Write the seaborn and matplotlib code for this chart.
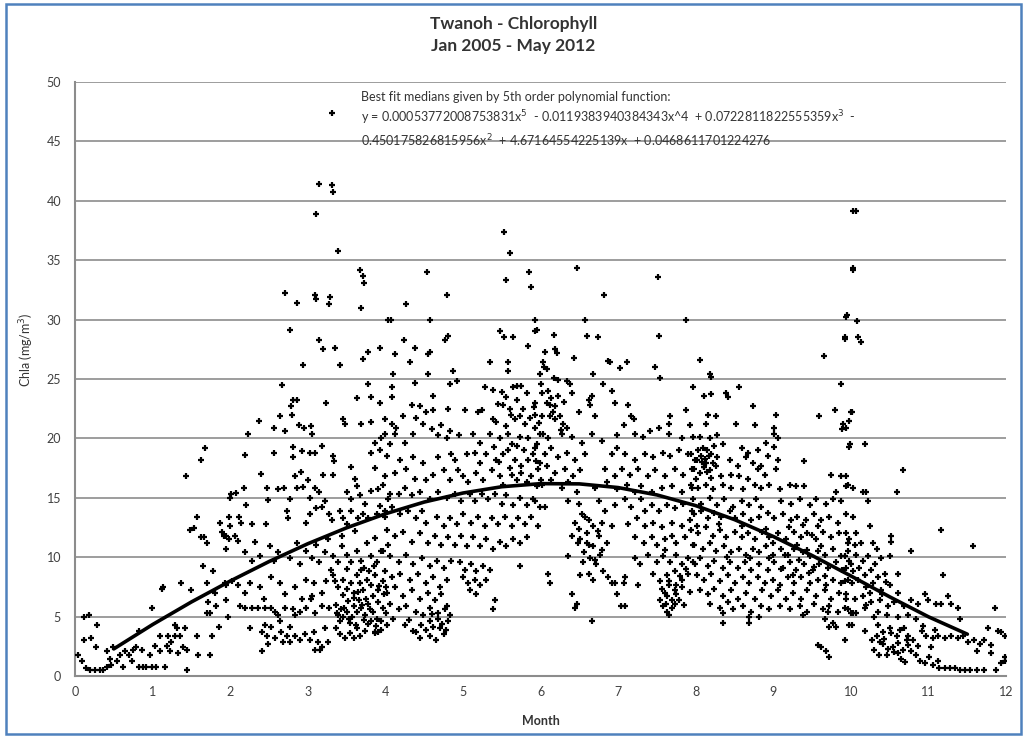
import matplotlib.pyplot as plt
import seaborn as sns
import pandas as pd
from matplotlib.patches import Rectangle

# readings: (month, chl a) pairs, grouped by part of the year
pts_0_2 = [
    (0.04, 1.76), (0.09, 1.28), (0.11, 4.95), (0.18, 5.1), (0.12, 3.0), (0.14, 0.64), (0.19, 0.48),
    (0.21, 3.2), (0.26, 0.48), (0.28, 4.3), (0.27, 2.4), (0.32, 0.48), (0.36, 0.48), (0.41, 0.8),
    (0.41, 2.1), (0.45, 1.4), (0.47, 0.96), (0.49, 2.4), (0.54, 1.28), (0.58, 1.76), (0.62, 0.8),
    (0.64, 2.1), (0.69, 1.76), (0.73, 1.28), (0.75, 2.2), (0.79, 2.4), (0.82, 3.8), (0.83, 0.8),
    (0.86, 2.2), (0.88, 0.8), (0.92, 0.8), (0.97, 1.76), (0.99, 5.75), (0.99, 0.8), (1.03, 2.56),
    (1.05, 0.8), (1.09, 3.35), (1.09, 2.1), (1.12, 7.35), (1.14, 7.5), (1.16, 0.8), (1.18, 2.56),
    (1.2, 3.35), (1.22, 2.1), (1.24, 2.9), (1.29, 3.35), (1.29, 4.3), (1.31, 4.0), (1.33, 1.9),
    (1.35, 3.35), (1.36, 7.8), (1.39, 2.4), (1.42, 4.0), (1.44, 2.2), (1.45, 0.48), (1.43, 16.8),
    (1.48, 12.3), (1.54, 12.45), (1.57, 13.4), (1.5, 7.2), (1.57, 3.35), (1.59, 1.76), (1.63, 18.2),
    (1.67, 19.2), (1.62, 11.7), (1.66, 11.7), (1.70, 11.2), (1.65, 9.3), (1.70, 7.8), (1.72, 6.2),
    (1.70, 5.3), (1.74, 5.3), (1.76, 3.35), (1.74, 1.76), (1.78, 8.8), (1.8, 7.0), (1.82, 5.9),
    (1.85, 4.15), (1.87, 12.9), (1.89, 12.1), (1.92, 11.8), (1.95, 11.8), (1.93, 7.8), (1.97, 4.95),
    (2.0, 15.0), (1.95, 10.7), (1.99, 13.4),
]

pts_2_4 = [
    (3.315, 47.4), (3.15, 41.4), (3.31, 41.3), (3.33, 40.7), (3.105, 38.9), (3.39, 35.8), (3.67, 34.2),
    (3.71, 33.7), (3.73, 33.1), (2.71, 32.2), (2.86, 31.4), (3.09, 32.1), (3.11, 31.7), (3.29, 31.9),
    (3.28, 31.3), (3.69, 31.0), (4.04, 30.0), (2.77, 29.1), (3.15, 28.3), (3.19, 27.5), (3.35, 27.6),
    (2.94, 26.2), (3.41, 26.2), (3.71, 26.7), (3.77, 27.3), (3.93, 27.6), (2.67, 24.5), (2.81, 23.2),
    (2.86, 23.2), (2.79, 22.7), (2.80, 22.0), (3.24, 23.0), (3.77, 24.6), (3.63, 23.4), (3.82, 23.5),
    (3.93, 23.0), (2.37, 21.5), (2.57, 20.9), (2.64, 21.9), (2.71, 20.6), (2.89, 21.1), (2.95, 20.9),
    (3.04, 21.0), (3.05, 20.4), (3.46, 21.6), (3.48, 21.2), (3.69, 21.2), (3.82, 21.4), (2.23, 20.4),
    (2.19, 18.6), (2.57, 18.8), (2.81, 19.3), (2.81, 18.4), (2.93, 18.9), (3.03, 18.8), (3.09, 18.8),
    (3.18, 19.4), (3.33, 18.5), (3.34, 18.1), (3.81, 18.8), (3.86, 19.6), (3.93, 19.0), (4.0, 20.4),
    (3.95, 20.0), (3.56, 17.6), (3.86, 17.5), (2.40, 17.0), (2.84, 16.8), (2.91, 17.2), (3.00, 16.5),
    (3.20, 16.9), (3.33, 16.9), (3.61, 16.6), (4.0, 16.8), (2.01, 15.3), (2.07, 15.4), (2.18, 15.8),
    (2.47, 15.8), (2.49, 14.8), (2.61, 15.7), (2.7, 15.8), (2.77, 14.9), (2.86, 15.8), (2.94, 15.9),
    (3.03, 15.0), (3.09, 15.8), (3.14, 15.5), (3.22, 14.7), (3.51, 15.5), (3.56, 14.9), (3.63, 16.0),
    (3.67, 15.2), (3.74, 14.5), (3.82, 15.6), (3.90, 15.7), (3.93, 14.3), (4.04, 14.9), (2.21, 14.4),
    (2.11, 13.4), (2.14, 12.9), (1.997, 12.6), (2.28, 12.8), (2.46, 12.8), (2.73, 13.9), (2.75, 13.3),
    (2.98, 12.9), (3.03, 13.6), (3.11, 14.1), (3.18, 14.2), (3.27, 13.6), (3.31, 13.1), (3.41, 13.9),
    (3.46, 13.3), (3.51, 12.8), (3.56, 13.9), (3.65, 13.3), (3.71, 13.6), (3.78, 13.3), (3.89, 13.6),
    (4.0, 13.4), (1.98, 11.5), (2.06, 11.8), (2.1, 11.4), (2.19, 10.4), (2.32, 11.3), (2.28, 9.7),
    (2.38, 10.1), (2.51, 10.9), (2.57, 9.7), (2.62, 10.4), (2.77, 9.9), (2.86, 11.2), (2.9, 9.4),
    (2.98, 10.5), (3.05, 9.9), (3.11, 11.0), (3.14, 9.6), (3.22, 10.4), (3.26, 11.5), (3.33, 10.1),
    (3.39, 9.6), (3.44, 10.9), (3.5, 10.2), (3.56, 9.6), (3.63, 10.5), (3.68, 9.7), (3.76, 11.2),
    (3.82, 10.1), (3.89, 9.6), (3.95, 10.5), (4.04, 11.0), (1.95, 7.7), (2.02, 8.0), (2.1, 7.7),
    (2.19, 7.0), (2.25, 7.8), (2.38, 7.5), (2.43, 6.5), (2.53, 8.3), (2.64, 7.8), (2.71, 6.9),
    (2.83, 7.5), (2.92, 6.5), (2.98, 8.1), (3.05, 6.7), (3.08, 7.8), (3.18, 7.0), (3.24, 8.0),
    (3.30, 8.9), (3.33, 8.5), (3.35, 8.0), (3.39, 7.5), (3.46, 8.1), (3.5, 7.3), (3.56, 7.8),
    (3.59, 7.0), (3.63, 8.5), (3.67, 7.8), (3.71, 7.2), (3.76, 8.1), (3.82, 7.7), (3.86, 8.5),
    (3.91, 7.2), (3.97, 8.0), (4.01, 7.5), (1.95, 6.4), (2.13, 5.9), (2.19, 5.75), (2.28, 5.75),
    (2.36, 5.75), (2.45, 5.75), (2.53, 5.75), (2.58, 5.4), (2.62, 5.1), (2.71, 5.75), (2.81, 5.6),
    (2.83, 5.1), (2.9, 5.4), (2.98, 5.75), (3.04, 6.5), (3.09, 5.3), (3.18, 5.9), (3.28, 5.75),
    (3.39, 5.1), (3.43, 5.6), (3.46, 4.95), (3.5, 5.4), (3.53, 4.8), (3.59, 5.9), (3.63, 5.4),
    (3.66, 6.4), (3.69, 5.75), (3.74, 5.1), (3.78, 6.1), (3.84, 5.4), (3.89, 4.8), (3.97, 5.75),
    (4.01, 5.3), (2.25, 4.0), (2.41, 3.7), (2.45, 4.3), (2.48, 3.35), (2.53, 4.15), (2.58, 3.2),
    (2.64, 4.6), (2.66, 3.7), (2.68, 2.9), (2.73, 3.35), (2.77, 4.15), (2.77, 2.9), (2.83, 3.35),
    (2.9, 3.0), (2.96, 3.5), (3.03, 3.0), (3.08, 3.7), (3.13, 2.9), (3.18, 2.4), (3.22, 4.0),
    (3.26, 2.9), (3.37, 4.0), (3.41, 3.5), (3.48, 3.2), (3.63, 4.0), (3.67, 3.35), (3.74, 3.8),
    (3.82, 4.6), (3.86, 3.7), (3.91, 3.7), (2.41, 2.1), (2.49, 2.7), (3.09, 2.2), (3.16, 2.2),
    (3.36, 6.0), (3.38, 5.3), (3.42, 4.6), (3.45, 6.8), (3.47, 5.7), (3.52, 6.3), (3.54, 4.5),
    (3.57, 5.0), (3.6, 6.6), (3.62, 4.3), (3.65, 7.1), (3.7, 6.0), (3.72, 4.7), (3.75, 6.5),
    (3.77, 4.4), (3.8, 5.6), (3.84, 6.7), (3.86, 3.6), (3.88, 4.2), (3.9, 6.2), (3.92, 7.6),
    (3.95, 3.9), (3.98, 6.9), (3.55, 3.6), (3.6, 3.2), (3.68, 8.9), (3.73, 9.1), (3.79, 8.8),
    (3.85, 9.3), (3.87, 11.6), (3.44, 11.8), (3.61, 12.2), (3.5, 9.0),
]

pts_4_6 = [
    (5.53, 37.4), (5.61, 35.6), (5.55, 33.3), (4.54, 34.0), (4.79, 32.1), (5.85, 34.0), (5.88, 32.7),
    (4.26, 31.3), (4.07, 30.0), (4.57, 30.0), (5.93, 30.0), (5.48, 29.0), (5.53, 28.5), (5.65, 28.5),
    (5.93, 29.0), (4.38, 27.6), (4.24, 28.3), (4.77, 28.3), (4.81, 28.6), (4.57, 27.3), (4.55, 27.1),
    (4.12, 27.1), (4.32, 26.4), (5.35, 26.4), (5.58, 26.4), (5.84, 27.8), (6.03, 26.4), (4.1, 25.4),
    (4.55, 25.4), (4.87, 25.7), (5.58, 25.7), (5.69, 24.4), (5.75, 24.4), (4.08, 24.3), (4.38, 24.7),
    (4.83, 24.6), (4.92, 24.8), (5.28, 24.3), (5.39, 24.1), (5.65, 24.3), (5.82, 23.8), (4.62, 23.6),
    (4.08, 23.5), (5.56, 23.5), (5.52, 22.8), (5.60, 22.5), (4.34, 22.8), (4.45, 22.7), (4.53, 22.2),
    (4.62, 22.4), (4.81, 22.5), (5.02, 22.4), (5.2, 22.2), (5.24, 22.4), (5.39, 21.6), (5.43, 21.4),
    (5.67, 21.6), (5.73, 21.9), (5.8, 21.2), (5.93, 20.9), (3.99, 21.6), (4.08, 21.2), (4.14, 20.9),
    (4.23, 21.9), (4.40, 21.7), (4.49, 21.2), (4.12, 20.4), (4.06, 19.5), (4.25, 19.6), (4.36, 20.4),
    (4.60, 20.8), (4.68, 20.3), (4.72, 21.1), (4.79, 20.0), (4.83, 20.6), (4.95, 20.3), (5.13, 20.4),
    (5.22, 19.6), (5.35, 20.4), (5.48, 20.0), (5.58, 20.4), (5.63, 19.5), (5.73, 20.1), (5.84, 20.0),
    (5.95, 19.5), (6.03, 20.4), (4.19, 18.2), (4.02, 18.5), (4.36, 18.4), (4.49, 17.9), (4.68, 18.4),
    (4.85, 18.7), (4.9, 18.2), (5.05, 18.7), (5.15, 18.8), (5.22, 17.9), (5.3, 18.7), (5.43, 18.2),
    (5.52, 18.7), (5.58, 19.0), (5.67, 18.2), (5.75, 17.7), (5.84, 18.2), (5.9, 18.7), (5.99, 17.9),
    (4.12, 17.1), (4.27, 17.4), (4.38, 16.6), (4.53, 16.5), (4.62, 16.9), (4.75, 17.3), (4.83, 16.5),
    (4.94, 17.3), (5.0, 16.8), (5.07, 16.3), (5.17, 17.1), (5.26, 16.5), (5.37, 17.3), (5.48, 16.8),
    (5.52, 16.1), (5.63, 16.9), (5.69, 16.5), (5.75, 17.1), (5.82, 16.3), (5.88, 16.8), (5.95, 16.0),
    (6.01, 16.5), (3.97, 16.1), (4.06, 15.3), (4.17, 15.3), (4.25, 15.8), (4.34, 15.2), (4.45, 15.5),
    (4.57, 14.9), (4.68, 15.5), (4.79, 15.0), (4.9, 15.3), (4.98, 14.7), (5.09, 15.3), (5.15, 14.7),
    (5.24, 15.3), (5.32, 14.9), (5.41, 15.3), (5.5, 14.5), (5.56, 15.2), (5.65, 14.4), (5.73, 15.0),
    (5.82, 14.4), (5.9, 14.9), (5.99, 14.2), (3.99, 13.9), (4.08, 14.2), (4.19, 13.6), (4.29, 13.9),
    (4.40, 13.3), (4.47, 13.9), (4.53, 12.9), (4.66, 13.4), (4.75, 12.6), (4.83, 13.3), (4.92, 12.8),
    (5.0, 13.6), (5.11, 12.9), (5.2, 13.4), (5.28, 12.6), (5.37, 13.3), (5.45, 12.8), (5.54, 13.4),
    (5.63, 12.6), (5.71, 13.3), (5.8, 12.8), (5.88, 13.4), (5.97, 12.6), (4.02, 12.3), (4.12, 11.8),
    (4.23, 12.1), (4.34, 11.3), (4.45, 12.0), (4.55, 11.2), (4.64, 11.8), (4.72, 11.0), (4.81, 11.7),
    (4.9, 11.0), (4.98, 11.8), (5.05, 10.9), (5.13, 11.7), (5.22, 10.9), (5.3, 11.5), (5.39, 10.7),
    (5.48, 11.3), (5.56, 10.9), (5.65, 11.5), (5.73, 11.2), (5.82, 11.7), (3.97, 10.5), (4.06, 10.1),
    (4.17, 9.6), (4.27, 10.2), (4.36, 9.4), (4.47, 9.9), (4.57, 9.3), (4.66, 9.7), (4.75, 9.1),
    (4.85, 9.7), (4.96, 9.6), (5.02, 8.9), (5.11, 9.4), (5.17, 8.8), (5.26, 9.3), (5.35, 8.9),
    (5.73, 9.3), (3.99, 8.8), (4.08, 8.3), (4.19, 8.6), (4.32, 8.1), (4.42, 8.6), (4.53, 7.8),
    (4.62, 8.3), (4.7, 7.5), (4.79, 8.1), (5.0, 8.3), (5.07, 7.8), (5.15, 8.1), (5.22, 7.7),
    (5.3, 8.1), (4.02, 7.0), (4.12, 7.5), (4.23, 6.7), (4.34, 7.2), (4.45, 6.5), (4.55, 7.0),
    (4.64, 6.4), (4.72, 6.9), (4.79, 5.9), (5.09, 7.2), (5.17, 6.9), (5.41, 6.4), (4.06, 6.1),
    (4.17, 5.6), (4.27, 5.9), (4.40, 5.4), (4.49, 5.1), (4.57, 5.75), (4.68, 5.3), (4.77, 5.6),
    (4.83, 5.1), (3.95, 4.6), (4.02, 4.3), (4.1, 4.8), (4.25, 4.3), (4.36, 3.8), (4.40, 3.7),
    (4.57, 4.6), (4.62, 4.15), (4.68, 4.8), (4.70, 4.0), (4.57, 3.35), (4.75, 3.5), (5.39, 5.6),
    (5.45, 22.9), (5.5, 23.9), (5.56, 21.0), (5.62, 22.0), (5.7, 23.2), (5.77, 22.5), (5.86, 21.7),
    (5.91, 22.6), (5.98, 21.3), (5.4, 19.3), (5.47, 18.0), (5.6, 17.5), (5.7, 19.4), (5.79, 19.0),
    (5.94, 18.1), (4.46, 4.3), (4.52, 3.9), (4.6, 5.2), (4.65, 3.0), (4.73, 4.4), (4.78, 3.9),
    (4.81, 4.6), (4.44, 3.2), (4.3, 4.7),
]

pts_6_8 = [
    (6.47, 34.3), (7.51, 33.6), (6.82, 32.1), (6.57, 30.0), (7.88, 30.0), (5.95, 29.1), (6.60, 28.6),
    (6.74, 28.5), (7.53, 28.6), (6.17, 28.7), (6.06, 27.3), (6.19, 27.5), (6.21, 27.2), (6.43, 26.8),
    (6.87, 26.5), (6.90, 26.4), (7.02, 25.9), (7.11, 26.4), (7.48, 26.0), (7.54, 25.1), (5.99, 25.4),
    (6.17, 25.1), (6.34, 24.8), (6.38, 24.6), (6.68, 25.4), (6.81, 24.6), (6.02, 23.8), (6.10, 24.0),
    (6.23, 23.6), (6.40, 23.8), (6.66, 23.6), (6.92, 24.0), (5.93, 23.0), (6.08, 23.0), (6.12, 22.8),
    (6.19, 22.7), (6.49, 22.2), (6.62, 23.2), (6.64, 22.8), (6.70, 21.9), (6.96, 23.0), (7.13, 22.8),
    (7.17, 21.9), (5.93, 22.0), (6.02, 21.9), (6.12, 21.9), (6.19, 21.6), (6.25, 21.9), (6.29, 21.2),
    (6.34, 20.9), (7.07, 21.1), (7.20, 21.6), (7.41, 20.6), (7.52, 20.9), (7.65, 21.2), (7.67, 21.9),
    (7.88, 22.4), (5.99, 20.4), (6.10, 20.0), (6.27, 20.4), (6.40, 20.1), (6.53, 19.6), (6.66, 20.4),
    (6.79, 19.8), (6.98, 20.3), (7.22, 20.4), (7.32, 20.1), (7.65, 20.4), (7.82, 20.0), (5.93, 19.2),
    (6.06, 18.7), (6.14, 19.2), (6.23, 18.4), (6.34, 18.8), (6.45, 18.2), (6.57, 18.7), (6.92, 18.7),
    (6.98, 19.2), (7.09, 18.7), (7.22, 18.2), (7.35, 18.7), (7.45, 18.4), (7.58, 18.8), (7.67, 18.5),
    (7.78, 19.0), (7.90, 18.7), (7.99, 18.2), (5.97, 17.4), (6.08, 17.7), (6.19, 17.1), (6.32, 17.4),
    (6.42, 16.8), (6.51, 17.3), (6.83, 17.4), (6.96, 16.8), (7.05, 17.4), (7.15, 16.9), (7.26, 17.4),
    (7.39, 16.8), (7.48, 17.3), (7.60, 16.8), (7.73, 17.4), (7.84, 16.9), (7.95, 17.4), (6.02, 16.1),
    (6.14, 16.5), (6.27, 15.8), (6.36, 16.3), (6.47, 15.5), (6.70, 15.8), (6.85, 16.3), (6.98, 15.7),
    (7.11, 16.1), (7.22, 15.5), (7.30, 16.0), (7.43, 15.5), (7.56, 15.8), (7.69, 16.0), (7.82, 15.5),
    (7.95, 15.8), (5.93, 14.7), (6.06, 14.2), (6.36, 14.7), (6.49, 14.5), (6.53, 13.6), (6.57, 13.4),
    (6.75, 14.7), (6.83, 13.9), (6.96, 14.4), (7.09, 14.9), (7.17, 14.2), (7.30, 14.9), (7.35, 13.9),
    (7.43, 14.4), (7.52, 13.9), (7.63, 14.4), (7.73, 14.1), (7.84, 14.5), (7.95, 13.9), (6.45, 12.9),
    (6.62, 13.1), (6.68, 12.6), (6.79, 12.9), (6.92, 12.6), (7.13, 12.8), (7.24, 13.3), (7.35, 12.6),
    (7.45, 12.9), (7.56, 12.5), (7.69, 12.9), (7.82, 12.6), (7.93, 13.1), (8.01, 12.6), (6.40, 11.8),
    (6.51, 11.5), (6.60, 11.2), (6.68, 10.9), (6.75, 11.8), (6.85, 11.2), (7.22, 11.7), (7.33, 11.2),
    (7.43, 11.7), (7.50, 11.0), (7.60, 11.5), (7.75, 11.2), (7.86, 11.7), (7.97, 11.0), (6.36, 10.1),
    (6.55, 9.6), (6.64, 9.9), (6.72, 9.4), (6.77, 10.2), (7.22, 9.9), (7.28, 9.4), (7.39, 10.2),
    (7.50, 9.6), (7.58, 10.1), (7.67, 9.6), (7.75, 10.2), (7.82, 9.4), (7.90, 9.9), (7.99, 9.4),
    (6.10, 8.6), (6.51, 8.5), (6.62, 8.6), (6.68, 8.1), (6.81, 8.8), (6.87, 8.3), (6.96, 7.8),
    (7.09, 8.3), (7.45, 8.6), (7.54, 8.0), (7.63, 8.5), (7.73, 8.8), (7.82, 8.1), (7.90, 8.6),
    (6.12, 7.8), (6.92, 7.8), (7.07, 7.8), (7.26, 7.7), (7.56, 7.3), (7.65, 7.7), (7.73, 7.2),
    (7.82, 7.5), (6.40, 6.9), (6.98, 6.9), (7.04, 5.9), (7.09, 5.9), (7.54, 6.4), (7.63, 6.7),
    (7.69, 6.4), (7.75, 6.9), (6.45, 5.75), (6.47, 6.1), (7.58, 5.9), (7.63, 5.4), (7.65, 5.1),
    (6.66, 4.6), (7.73, 6.1),
    (6.0, 24.6), (6.04, 26.0), (6.08, 25.8), (6.14, 23.4), (6.16, 22.2), (6.22, 24.9), (6.26, 20.7),
    (6.3, 23.1), (6.48, 11.2), (6.5, 12.4), (6.56, 10.4), (6.6, 12.0), (6.63, 11.0), (6.7, 9.8),
    (6.74, 12.2), (6.79, 10.6), (7.6, 7.0), (7.62, 6.1), (7.66, 8.0), (7.7, 5.7), (7.74, 7.7),
    (7.78, 6.4), (7.8, 8.4), (7.85, 6.0), (7.88, 9.0), (7.92, 7.1), (7.6, 10.6), (7.7, 11.8),
]

pts_8_10 = [
    (10.02, 39.1), (10.02, 34.3), (9.95, 30.4), (9.92, 28.4), (9.65, 26.9), (8.06, 26.6), (8.18, 25.4),
    (8.20, 25.2), (7.97, 24.3), (8.56, 24.3), (9.87, 24.6), (8.11, 23.6), (8.20, 23.7), (8.39, 23.8),
    (8.41, 23.5), (10.0, 22.2), (9.04, 22.0), (8.16, 22.0), (8.26, 21.9), (8.74, 22.7), (8.52, 21.2),
    (9.79, 22.4), (9.59, 21.9), (9.90, 21.2), (9.89, 20.8), (8.13, 21.2), (7.92, 21.1), (8.76, 21.1),
    (9.01, 20.9), (9.01, 20.4), (9.99, 19.5), (7.96, 20.1), (8.05, 20.1), (8.18, 20.0), (8.28, 20.3),
    (8.09, 19.2), (8.35, 19.5), (8.59, 19.2), (8.67, 18.8), (8.80, 19.0), (8.91, 19.6), (9.01, 19.3),
    (9.06, 20.0), (7.94, 18.7), (8.01, 18.2), (8.07, 18.5), (8.13, 17.9), (8.20, 18.7), (8.26, 17.7),
    (8.44, 18.2), (8.54, 17.7), (8.65, 18.4), (8.74, 17.9), (8.84, 17.7), (8.93, 18.5), (9.06, 18.2),
    (9.40, 18.1), (7.98, 17.4), (8.05, 17.1), (8.11, 17.6), (8.18, 17.3), (8.33, 16.8), (8.46, 16.9),
    (8.56, 16.8), (8.67, 16.6), (8.80, 17.4), (8.89, 16.9), (9.04, 17.4), (9.21, 16.1), (9.29, 16.0),
    (9.40, 16.0), (9.74, 16.9), (9.87, 16.8), (9.94, 16.0), (7.94, 16.1), (8.03, 15.8), (8.13, 16.1),
    (8.22, 15.7), (8.35, 16.1), (8.46, 15.8), (8.61, 15.7), (8.76, 16.1), (8.84, 15.8), (8.95, 16.1),
    (9.08, 15.7), (9.81, 15.5), (10.02, 15.8), (7.96, 14.9), (8.07, 14.5), (8.18, 15.0), (8.28, 14.4),
    (8.37, 14.9), (8.48, 14.2), (8.59, 14.7), (8.69, 14.4), (8.78, 14.9), (8.84, 14.2), (9.10, 14.7),
    (9.23, 14.5), (9.34, 14.9), (9.47, 14.4), (9.55, 14.9), (9.68, 14.5), (9.77, 14.9), (9.87, 14.7),
    (7.98, 13.6), (8.07, 13.9), (8.16, 13.3), (8.24, 13.7), (8.33, 13.4), (8.44, 13.9), (8.50, 13.3),
    (8.61, 13.6), (8.71, 13.1), (8.82, 13.4), (8.93, 13.7), (9.01, 13.3), (9.12, 13.6), (9.23, 13.1),
    (9.31, 13.4), (9.42, 13.1), (9.53, 13.6), (9.62, 13.1), (9.72, 13.4), (9.83, 12.9), (9.94, 13.6),
    (7.94, 12.3), (8.03, 12.0), (8.13, 12.5), (8.22, 11.8), (8.31, 12.3), (8.39, 11.7), (8.50, 12.1),
    (8.59, 11.7), (8.67, 12.0), (8.76, 11.5), (8.86, 12.1), (8.95, 11.7), (9.06, 12.0), (9.16, 11.5),
    (9.27, 12.1), (9.36, 11.7), (9.44, 12.0), (9.55, 11.5), (9.64, 12.1), (9.74, 11.7), (9.85, 12.0),
    (9.98, 11.5), (7.98, 11.0), (8.09, 10.7), (8.18, 11.2), (8.26, 10.5), (8.37, 10.9), (8.46, 10.4),
    (8.56, 10.7), (8.65, 10.2), (8.74, 10.7), (8.82, 10.4), (8.91, 10.9), (8.99, 10.2), (9.10, 10.7),
    (9.19, 10.2), (9.27, 10.7), (9.38, 10.4), (9.47, 10.1), (9.57, 10.5), (9.66, 10.2), (9.77, 10.7),
    (9.87, 10.1), (9.96, 10.5), (7.96, 9.6), (8.05, 9.9), (8.16, 9.3), (8.24, 9.7), (8.35, 9.1),
    (8.44, 9.6), (8.54, 9.1), (8.63, 9.6), (8.71, 8.9), (8.82, 9.4), (8.93, 8.9), (9.01, 9.6),
    (9.12, 9.1), (9.21, 9.6), (9.29, 8.9), (9.40, 9.4), (9.51, 8.9), (9.59, 9.4), (9.70, 9.1),
    (9.81, 9.6), (9.89, 8.9), (10.0, 9.4), (8.01, 8.5), (8.11, 8.1), (8.20, 8.6), (8.31, 8.0),
    (8.41, 8.5), (8.50, 7.8), (8.61, 8.3), (8.69, 7.8), (8.80, 8.3), (8.89, 7.8), (8.99, 8.1),
    (9.08, 7.7), (9.19, 8.3), (9.27, 7.8), (9.36, 8.3), (9.47, 7.8), (9.57, 8.1), (9.68, 7.7),
    (9.77, 8.1), (9.87, 7.8), (9.96, 8.1), (8.05, 7.2), (8.16, 6.9), (8.24, 7.3), (8.35, 6.7),
    (8.46, 7.2), (8.54, 6.5), (8.65, 7.0), (8.76, 6.5), (8.86, 7.2), (8.97, 6.7), (9.06, 7.2),
    (9.16, 6.5), (9.25, 7.0), (9.36, 6.5), (9.44, 7.2), (9.55, 6.7), (9.66, 7.2), (9.74, 6.5),
    (9.85, 7.0), (9.94, 6.5), (8.18, 6.1), (8.31, 5.75), (8.41, 6.2), (8.48, 5.6), (8.61, 5.9),
    (8.71, 5.4), (8.84, 5.9), (8.95, 5.6), (9.08, 5.9), (9.21, 5.6), (9.34, 5.9), (9.44, 5.4),
    (9.53, 6.1), (9.64, 5.6), (9.72, 5.9), (9.83, 5.4), (9.92, 5.75), (8.35, 5.3), (8.69, 4.95),
    (8.82, 4.95), (9.38, 5.1), (9.70, 5.4), (10.0, 5.3), (8.35, 4.5), (8.69, 4.5), (9.57, 2.6),
    (9.61, 2.4), (9.68, 2.1), (9.72, 1.6), (9.72, 4.15), (9.66, 4.8), (9.77, 4.5), (9.81, 4.15),
    (9.98, 4.3),
    (8.08, 18.0), (8.1, 17.6), (8.12, 18.3), (8.14, 19.0), (8.15, 17.2), (8.17, 18.5), (8.19, 16.7),
    (8.22, 17.9), (8.24, 19.4), (8.27, 18.4), (8.03, 19.0), (8.0, 16.6), (9.1, 9.0), (9.15, 10.2),
    (9.2, 12.5), (9.25, 8.5), (9.3, 11.0), (9.33, 9.8), (9.38, 12.7), (9.43, 10.6), (9.46, 8.7),
    (9.5, 11.9), (9.53, 9.2), (9.58, 12.6), (9.62, 10.9), (9.67, 8.4), (8.9, 12.4), (8.95, 9.9),
    (9.0, 11.2), (8.6, 12.6), (8.7, 9.9), (8.4, 10.0), (8.3, 12.8),
]

pts_10_12 = [
    (10.06, 39.1), (10.03, 34.2), (9.94, 30.2), (10.08, 29.9), (9.92, 28.5), (10.09, 28.5), (10.13, 28.1),
    (10.01, 22.2), (9.97, 21.5), (9.94, 20.9), (9.98, 19.3), (10.18, 19.5), (10.67, 17.3), (9.94, 16.8),
    (9.96, 16.1), (10.16, 15.5), (10.20, 15.5), (10.59, 15.5), (10.22, 14.7), (10.03, 13.4), (9.94, 12.0),
    (10.07, 12.0), (10.24, 12.6), (10.52, 11.8), (11.16, 12.3), (11.57, 10.9), (9.96, 11.2), (10.05, 11.0),
    (10.13, 11.2), (10.28, 11.2), (10.33, 10.7), (10.52, 11.3), (10.78, 10.5), (9.92, 10.1), (9.98, 9.7),
    (10.07, 10.2), (10.16, 9.7), (10.22, 10.1), (10.31, 9.4), (10.39, 9.9), (10.50, 10.1), (9.94, 9.1),
    (10.03, 8.8), (10.11, 9.1), (10.18, 8.5), (10.26, 8.9), (10.35, 8.3), (10.44, 8.6), (10.61, 8.6),
    (11.19, 8.5), (9.92, 8.0), (10.01, 7.8), (10.09, 8.1), (10.20, 7.5), (10.28, 7.8), (10.39, 7.2),
    (10.50, 7.7), (10.61, 7.0), (10.95, 6.9), (10.99, 6.4), (11.10, 6.1), (11.16, 6.1), (11.25, 6.7),
    (11.29, 6.1), (9.94, 6.9), (10.05, 6.5), (10.16, 6.7), (10.26, 6.2), (10.37, 6.4), (10.48, 5.9),
    (10.56, 6.2), (10.69, 5.9), (10.78, 6.4), (10.86, 6.1), (11.38, 5.75), (11.85, 5.75), (9.96, 5.6),
    (10.07, 5.3), (10.18, 5.75), (10.35, 5.4), (10.46, 5.1), (10.61, 4.95), (10.74, 5.1), (10.84, 4.8),
    (11.40, 4.8), (10.01, 4.3), (10.18, 3.8), (10.35, 4.3), (10.41, 3.7), (10.50, 4.0), (10.59, 3.35),
    (10.69, 4.0), (10.74, 3.35), (10.80, 3.0), (10.91, 3.8), (10.97, 3.35), (11.06, 3.2), (11.12, 3.35),
    (11.21, 3.2), (11.29, 3.35), (11.38, 3.2), (11.44, 3.35), (11.51, 2.9), (11.59, 3.0), (11.66, 2.7),
    (11.72, 3.0), (11.77, 4.0), (11.81, 2.6), (11.89, 3.8), (11.94, 3.7), (11.98, 3.35), (10.03, 5.3),
    (10.41, 2.7), (10.46, 1.76), (10.54, 2.4), (10.61, 1.9), (10.65, 1.4), (10.74, 2.6), (10.78, 2.1),
    (10.84, 1.76), (10.89, 1.3), (10.95, 1.1), (11.01, 1.6), (11.06, 0.96), (11.12, 1.3), (11.14, 0.64),
    (11.21, 0.64), (11.27, 0.64), (11.34, 0.64), (11.40, 0.54), (11.47, 0.54), (11.53, 0.48), (11.62, 0.48),
    (11.72, 0.48), (11.87, 0.48), (11.62, 2.1), (11.98, 1.3), (11.99, 1.6), (11.94, 1.1), (11.81, 1.9),
    (9.92, 3.0),
    (10.27, 3.0), (10.3, 2.2), (10.33, 3.4), (10.36, 1.8), (10.38, 2.9), (10.43, 3.1), (10.48, 2.3),
    (10.52, 3.6), (10.56, 2.0), (10.6, 2.8), (10.63, 3.9), (10.67, 2.2), (10.7, 1.2), (10.72, 3.0),
    (10.87, 2.5), (10.93, 4.2), (11.03, 2.4), (11.08, 3.9), (10.2, 6.0), (10.25, 7.0), (10.3, 5.0),
    (10.4, 6.9), (10.45, 7.9),
]

# fitted median curve as drawn
fit_month = [0.5, 1.0, 1.5, 2.0, 2.5, 3.0, 3.5, 4.0, 4.5, 5.0, 5.5, 6.0,
             6.5, 7.0, 7.5, 8.0, 8.5, 9.0, 9.5, 10.0, 10.5, 11.0, 11.5]
fit_chla = [2.28, 4.33, 6.23, 7.99, 9.63, 11.13, 12.47, 13.65, 14.64, 15.40, 15.93, 16.19,
            16.17, 15.86, 15.24, 14.34, 13.16, 11.74, 10.14, 8.42, 6.66, 4.98, 3.52]

eq_text = ("Best fit medians given by 5th order polynomial function:\n"
           "y = 0.00053772008753831x$^5$  - 0.0119383940384343x^4  + 0.0722811822555359x$^3$  -\n"
           "0.450175826815956x$^2$  + 4.67164554225139x  + 0.0468611701224276")

all_pts = pts_0_2 + pts_2_4 + pts_4_6 + pts_6_8 + pts_8_10 + pts_10_12
df = pd.DataFrame(all_pts, columns=['month', 'chla'])
fit = pd.DataFrame({'month': fit_month, 'chla': fit_chla})

sns.set_style('white')
plt.rcParams['font.family'] = ['Lato', 'DejaVu Sans']

fig = plt.figure(figsize=(10.27, 7.38), dpi=100)
ax = fig.add_axes([0.073, 0.084, 0.9067, 0.805])

grid_col = '#8c8c8c'
for yv in range(5, 55, 5):
    ax.axhline(yv, color=grid_col, lw=1.2, zorder=0)

sns.scatterplot(data=df, x='month', y='chla', marker='+', s=20, color='black',
                linewidth=1.6, ax=ax, zorder=3)
sns.lineplot(data=fit, x='month', y='chla', color='black', lw=2.6, ax=ax, zorder=4)

ax.set_xlim(0, 12)
ax.set_ylim(0, 50)
ax.set_xticks(range(0, 13))
ax.set_yticks(range(0, 55, 5))
ax.tick_params(axis='both', labelsize=9, colors='#404040', length=4, width=1.2,
               direction='out', color=grid_col)
ax.tick_params(axis='y', pad=6)
for side in ['top', 'right']:
    ax.spines[side].set_visible(False)
for side in ['left', 'bottom']:
    ax.spines[side].set_color(grid_col)
    ax.spines[side].set_linewidth(1.5)

ax.set_xlabel('Month', fontsize=9, fontweight='bold', color='#333333', labelpad=12)
ax.set_ylabel('Chla (mg/m$^3$)', fontsize=9, color='#333333', labelpad=8)
ax.yaxis.set_label_coords(-0.042, 0.55)

ax.text(0.307, 0.985, eq_text, transform=ax.transAxes, fontsize=9, color='#333333',
        va='top', ha='left', linespacing=1.4)

fig.text(0.5, 0.967, 'Twanoh - Chlorophyll', ha='center', va='center',
         fontsize=12.5, fontweight='bold', color='#333333')
fig.text(0.5, 0.938, 'Jan 2005 - May 2012', ha='center', va='center',
         fontsize=12.5, fontweight='bold', color='#333333')

fig.patches.append(Rectangle((0.006, 0.006), 0.988, 0.988, transform=fig.transFigure,
                             fill=False, edgecolor='#4F81BD', lw=1.8))

fig.savefig('out.png', dpi=100)
